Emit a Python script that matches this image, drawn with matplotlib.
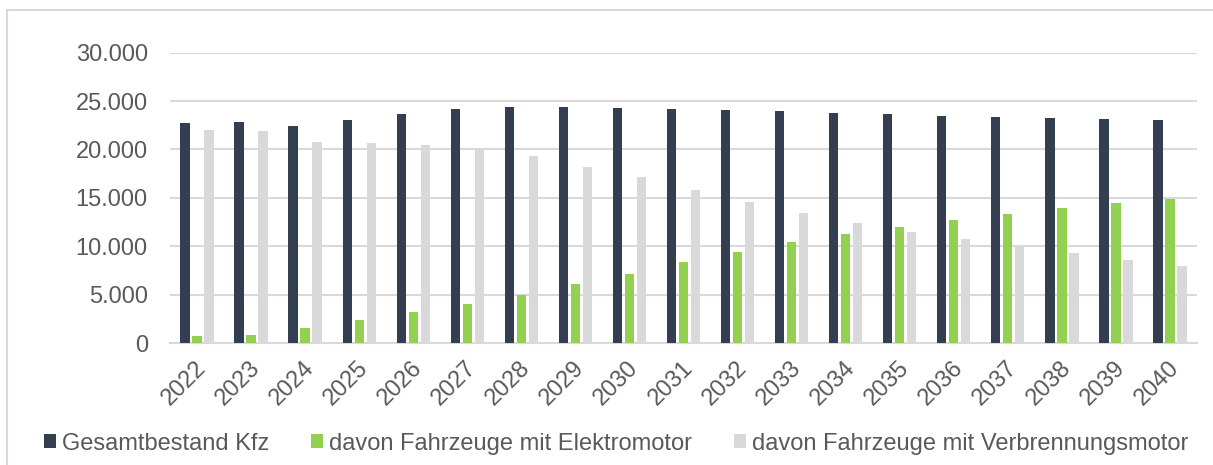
import matplotlib
matplotlib.use("Agg")
import matplotlib.pyplot as plt
import matplotlib.transforms as mtransforms
from matplotlib.patches import Rectangle, Patch
import numpy as np

years = [str(y) for y in range(2022, 2041)]
gesamt = [22700, 22850, 22400, 23030, 23690, 24170, 24380, 24340, 24280, 24170,
          24030, 23930, 23760, 23620, 23480, 23340, 23240, 23100, 23000]
elektro = [720, 860, 1550, 2340, 3170, 4030, 4970, 6070, 7170, 8380,
           9450, 10410, 11280, 12030, 12720, 13340, 13930, 14480, 14930]
verbrenner = [21970, 21930, 20790, 20660, 20480, 20030, 19340, 18210, 17140, 15760,
              14550, 13450, 12450, 11520, 10720, 10000, 9280, 8590, 8000]
series_names = ["Gesamtbestand Kfz", "davon Fahrzeuge mit Elektromotor",
                "davon Fahrzeuge mit Verbrennungsmotor"]
colors = ["#333F50", "#92D050", "#D9D9D9"]
yticks = [0, 5000, 10000, 15000, 20000, 25000, 30000]
ytick_labels = ["0", "5.000", "10.000", "15.000", "20.000", "25.000", "30.000"]

plt.rcParams['font.family'] = ['Liberation Sans', 'DejaVu Sans']
text_color = "#595959"
fs = 17

fig = plt.figure(figsize=(12.13, 4.65), dpi=100)
ax = fig.add_axes([170/1213, 1-343/465, (1197-170)/1213, (343-52.7)/465])

x = np.arange(len(years))
w = 0.173
step = 0.222
for i, (vals, c) in enumerate(zip([gesamt, elektro, verbrenner], colors)):
    ax.bar(x + (i-1)*step, vals, width=w, color=c, zorder=3, label=series_names[i])

ax.set_xlim(-0.5, len(years)-0.5)
ax.set_ylim(0, 30000)
ax.set_yticks(yticks)
ax.set_yticklabels(ytick_labels)
ax.grid(axis='y', color="#D9D9D9", linewidth=1.5, zorder=0)
for s in ["top", "right", "left"]:
    ax.spines[s].set_visible(False)
ax.spines["bottom"].set_color("#D9D9D9")
ax.spines["bottom"].set_linewidth(1.5)
ax.tick_params(axis='y', length=0, pad=16, labelsize=fs, labelcolor=text_color)
ax.tick_params(axis='x', length=0, pad=10, labelsize=fs, labelcolor=text_color)
ax.set_xticks(x)
ax.set_xticklabels(years, rotation=45, ha='right', va='top', rotation_mode='anchor')
offset = mtransforms.ScaledTranslation(-2/100, 0, fig.dpi_scale_trans)
for lbl in ax.get_xticklabels():
    lbl.set_transform(lbl.get_transform() + offset)

handles = [Patch(facecolor=c, edgecolor='none') for c in colors]
leg = fig.legend(handles, series_names, loc='center', ncol=3,
                 bbox_to_anchor=(616/1213, 1-443.5/465), frameon=False,
                 fontsize=fs, handlelength=0.506, handleheight=0.506,
                 handletextpad=0.25, columnspacing=1.78, borderpad=0, borderaxespad=0)
for t in leg.get_texts():
    t.set_color(text_color)

# outer border
fig.patches.append(Rectangle((6.5/1213, -0.05), 1.1, 1-10/465+0.05, transform=fig.transFigure,
                             fill=False, edgecolor="#D9D9D9", linewidth=1.5, zorder=0))

fig.savefig("out.png", dpi=100, facecolor='white')
